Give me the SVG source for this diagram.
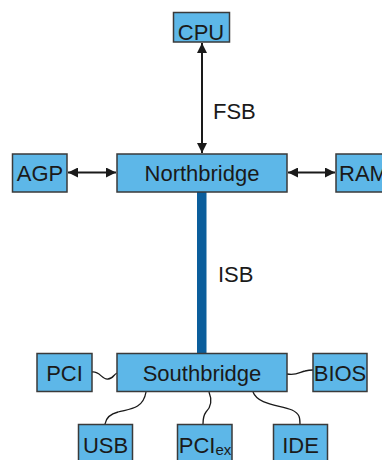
<svg xmlns="http://www.w3.org/2000/svg" width="382" height="460" viewBox="0 0 382 460">
  <style>
    .box { fill: #5db7e8; stroke: #3a3a3a; stroke-width: 1.5; }
    .lbl { font-family: "Liberation Sans", Arial, sans-serif; font-size: 22px; fill: #1a1a1a; text-anchor: middle; }
    .bus { font-family: "Liberation Sans", Arial, sans-serif; font-size: 22px; fill: #1a1a1a; }
    .arrow { stroke: #1a1a1a; stroke-width: 2; fill: none; marker-start: url(#head); marker-end: url(#head); }
    .wire { stroke: #1a1a1a; stroke-width: 1.3; fill: none; }
  </style>
  <defs>
    <marker id="head" viewBox="0 0 10 10" refX="10" refY="5" markerWidth="5" markerHeight="5" orient="auto-start-reverse">
      <path d="M0,0 L10,5 L0,10 Z" fill="#1a1a1a"/>
    </marker>
  </defs>

  <rect width="382" height="460" fill="#ffffff"/>

  <!-- connectors -->
  <g id="connectors">
    <line class="arrow" x1="202" y1="43" x2="202" y2="153"/>
    <line class="arrow" x1="68" y1="172.5" x2="116" y2="172.5"/>
    <line class="arrow" x1="288" y1="172.5" x2="335" y2="172.5"/>
    <!-- ISB bus bar -->
    <rect x="197" y="192" width="9.5" height="161" fill="#0b5e9c"/>
    <!-- Southbridge peripheral wires -->
    <path class="wire" d="M92,372 C100,371 102,380 108,379 C113,379 114,374 117,373"/>
    <path class="wire" d="M287,374 C296,376 300,372 305,371 C309,370 311,370 313,370"/>
    <path class="wire" d="M146,392 C143,410 128,409 118,412 C110,414 106,418 105,424"/>
    <path class="wire" d="M209,392 C213,402 210,408 206,412 C203,416 203,420 203,424"/>
    <path class="wire" d="M253,392 C258,405 280,405 292,410 C300,414 300,418 300,424"/>
  </g>

  <text class="bus" x="213" y="119">FSB</text>
  <text class="bus" x="218" y="281.5">ISB</text>

  <g id="cpu">
    <rect class="box" x="173.5" y="12.5" width="56" height="29.5"/>
    <text class="lbl" x="201" y="40">CPU</text>
  </g>
  <g id="agp">
    <rect class="box" x="12.5" y="154" width="54.5" height="38"/>
    <text class="lbl" x="40" y="181">AGP</text>
  </g>
  <g id="northbridge">
    <rect class="box" x="117" y="154" width="170" height="38"/>
    <text class="lbl" x="202" y="181">Northbridge</text>
  </g>
  <g id="ram">
    <rect class="box" x="336" y="154" width="55" height="38"/>
    <text class="lbl" x="363.5" y="181">RAM</text>
  </g>
  <g id="southbridge">
    <rect class="box" x="117" y="353.5" width="170" height="38"/>
    <text class="lbl" x="202" y="381">Southbridge</text>
  </g>
  <g id="pci">
    <rect class="box" x="37" y="353.5" width="55" height="38"/>
    <text class="lbl" x="64.5" y="381">PCI</text>
  </g>
  <g id="bios">
    <rect class="box" x="313" y="353.5" width="54" height="38"/>
    <text class="lbl" x="340" y="381">BIOS</text>
  </g>
  <g id="usb">
    <rect class="box" x="78.5" y="424.5" width="54" height="40"/>
    <text class="lbl" x="105.5" y="453">USB</text>
  </g>
  <g id="pciex">
    <rect class="box" x="177.5" y="424.5" width="54.5" height="40"/>
    <text class="lbl" x="205" y="453">PCI<tspan font-size="15" dy="2">ex</tspan></text>
  </g>
  <g id="ide">
    <rect class="box" x="273.5" y="424.5" width="54" height="40"/>
    <text class="lbl" x="300.5" y="453">IDE</text>
  </g>
</svg>
